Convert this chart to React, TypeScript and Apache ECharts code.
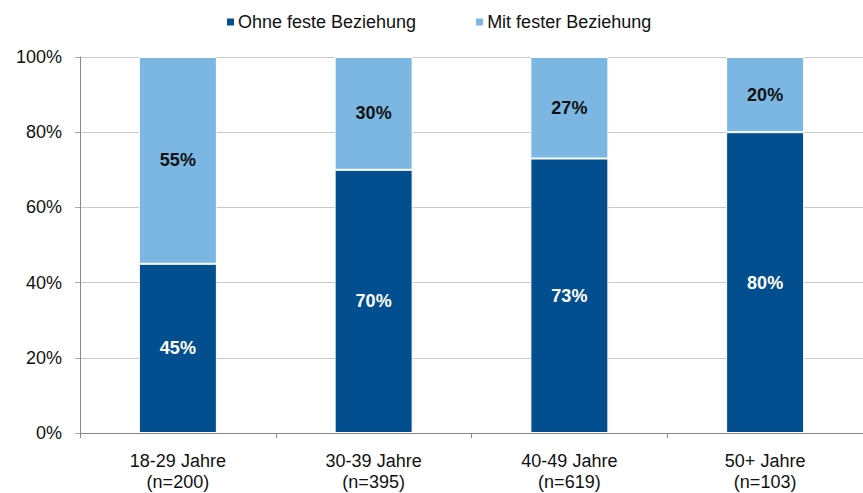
import React, { useEffect, useRef } from "react";
import * as echarts from "echarts";

const categories = ["18-29 Jahre\n(n=200)", "30-39 Jahre\n(n=395)", "40-49 Jahre\n(n=619)", "50+ Jahre\n(n=103)"];
const ohneFeste = [45, 70, 73, 80];
const mitFester = [55, 30, 27, 20];
const seriesNames = ["Ohne feste Beziehung", "Mit fester Beziehung"];
const yTicks = [0, 20, 40, 60, 80, 100];

const FONT = "Liberation Sans, Arial, sans-serif";

export default function App() {
  const ref = useRef<HTMLDivElement>(null);
  useEffect(() => {
    if (!ref.current) return;
    const chart = echarts.init(ref.current, undefined, { renderer: "svg" });
    chart.setOption({
      animation: false,
      legend: {
        top: 8,
        left: 220,
        itemWidth: 9,
        itemHeight: 9,
        itemGap: 58,
        icon: "rect",
        textStyle: { fontFamily: FONT, fontSize: 18, color: "#111", padding: [0, 0, 0, -2] },
        data: seriesNames,
      },
      grid: { left: 80, right: -4, top: 57, bottom: 60, containLabel: false },
      xAxis: {
        type: "category",
        data: categories,
        axisLine: { lineStyle: { color: "#888" } },
        axisTick: { show: true, length: 5, lineStyle: { color: "#888" } },
        axisLabel: { fontFamily: FONT, fontSize: 18, color: "#111", margin: 17, lineHeight: 21 },
      },
      yAxis: {
        type: "value",
        min: 0,
        max: 100,
        interval: 20,
        axisLine: { show: true, lineStyle: { color: "#888" } },
        axisTick: { show: true, length: 5, lineStyle: { color: "#aaa" } },
        splitLine: { lineStyle: { color: "#c8c8c8", width: 1 } },
        axisLabel: {
          fontFamily: FONT,
          fontSize: 18,
          color: "#111",
          margin: 18,
          formatter: (v: number) => (yTicks.includes(v) ? v + "%" : ""),
        },
      },
      series: [
        {
          name: seriesNames[0],
          type: "bar",
          stack: "s",
          data: ohneFeste,
          barWidth: 78,
          itemStyle: { color: "#024E8E", borderColor: "#fff", borderWidth: 1 },
          label: {
            show: true,
            position: "inside",
            formatter: "{c}%",
            fontFamily: FONT,
            fontSize: 18,
            fontWeight: "bold",
            color: "#fff",
          },
        },
        {
          name: seriesNames[1],
          type: "bar",
          stack: "s",
          data: mitFester,
          barWidth: 78,
          itemStyle: { color: "#7CB7E3", borderColor: "#fff", borderWidth: 1 },
          label: {
            show: true,
            position: "inside",
            formatter: "{c}%",
            fontFamily: FONT,
            fontSize: 18,
            fontWeight: "bold",
            color: "#111",
          },
        },
      ],
    });
    return () => chart.dispose();
  }, []);
  return <div ref={ref} style={{ width: 863, height: 493, position: "absolute", left: 0, top: 0 }} />;
}
